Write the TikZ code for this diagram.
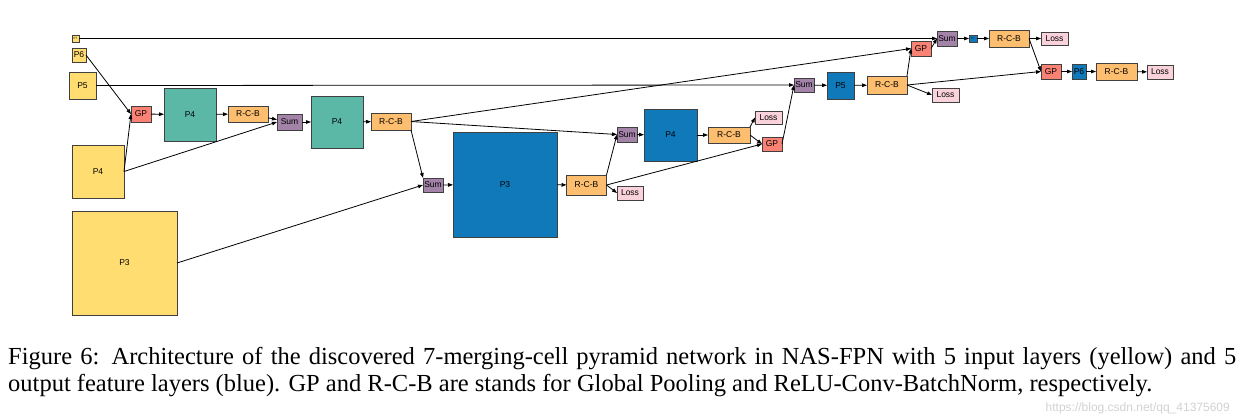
\documentclass[tikz,border=0pt]{standalone}
\usepackage{fontspec}
\setsansfont{Liberation Sans}
\newfontfamily\capfont{Liberation Serif}
\usetikzlibrary{arrows.meta}
\definecolor{cyel}{HTML}{FFDD71}
\definecolor{cteal}{HTML}{5BB8A7}
\definecolor{cblue}{HTML}{0F79B9}
\definecolor{corange}{HTML}{FDBE6F}
\definecolor{cred}{HTML}{FA8275}
\definecolor{cpurp}{HTML}{A384A8}
\definecolor{closs}{HTML}{FAD2DC}
\tikzset{
  box/.style={draw=black!75, line width=0.8pt, rectangle, inner sep=0pt, outer sep=0pt,
    font=\sffamily\fontsize{8.5}{9}\selectfont},
  tinybox/.style={box, font=\sffamily\fontsize{3}{3}\selectfont},
  edge/.style={draw=black, line width=0.8pt, -{Triangle[length=5pt,width=3.6pt]}},
  captxt/.style={anchor=base west, inner sep=0pt, font=\capfont\fontsize{24.5}{27}\selectfont},
}
\begin{document}
\begin{tikzpicture}[x=1pt,y=-1pt]
\useasboundingbox (0,0) rectangle (1238,416);
% input layers (yellow)
\node[tinybox, fill=cyel, minimum width=7pt, minimum height=7pt] (p7y) at (75.5,38.5) {P7};
\node[box, fill=cyel, minimum width=14pt, minimum height=14pt] (p6y) at (79,55) {P6};
\node[box, fill=cyel, minimum width=27pt, minimum height=27pt] (p5y) at (82.5,85.5) {P5};
\node[box, fill=cyel, minimum width=52pt, minimum height=53pt] (p4y) at (98,171.5) {P4};
\node[box, fill=cyel, minimum width=105pt, minimum height=104pt] (p3y) at (124.5,263) {P3};
% cells
\node[box, fill=cred, minimum width=20pt, minimum height=16pt] (gp1) at (141,114) {GP};
\node[box, fill=cteal, minimum width=52pt, minimum height=53pt] (p4t1) at (190,114.5) {P4};
\node[box, fill=corange, minimum width=40pt, minimum height=16pt] (rcb1) at (248,114) {R-C-B};
\node[box, fill=cpurp, minimum width=25pt, minimum height=16pt] (sum1) at (289.5,122) {Sum};
\node[box, fill=cteal, minimum width=52pt, minimum height=52pt] (p4t2) at (337,122) {P4};
\node[box, fill=corange, minimum width=40pt, minimum height=17pt] (rcb2) at (391,121.5) {R-C-B};
\node[box, fill=cpurp, minimum width=20pt, minimum height=14pt] (sum2) at (433,185) {Sum};
\node[box, fill=cblue, minimum width=104pt, minimum height=105pt] (p3b) at (505,184.5) {P3};
\node[box, fill=corange, minimum width=40pt, minimum height=20pt] (rcb3) at (586.5,185) {R-C-B};
\node[box, fill=closs, minimum width=26pt, minimum height=14pt] (loss1) at (630,193) {Loss};
\node[box, fill=cpurp, minimum width=20pt, minimum height=15pt] (sum3) at (627,134.5) {Sum};
\node[box, fill=cblue, minimum width=53pt, minimum height=52pt] (p4b) at (670.5,135) {P4};
\node[box, fill=corange, minimum width=42pt, minimum height=16pt] (rcb4) at (729,135) {R-C-B};
\node[box, fill=closs, minimum width=27pt, minimum height=13pt] (loss2) at (768.5,117.5) {Loss};
\node[box, fill=cred, minimum width=20pt, minimum height=14pt] (gp2) at (772,144) {GP};
\node[box, fill=cpurp, minimum width=20pt, minimum height=14pt] (sum4) at (804,85) {Sum};
\node[box, fill=cblue, minimum width=27pt, minimum height=27pt] (p5b) at (840.5,85.5) {P5};
\node[box, fill=corange, minimum width=40pt, minimum height=18pt] (rcb5) at (887,85) {R-C-B};
\node[box, fill=closs, minimum width=27pt, minimum height=14pt] (loss3) at (945.5,95) {Loss};
\node[box, fill=cred, minimum width=20pt, minimum height=15pt] (gp3) at (921,48.5) {GP};
\node[box, fill=cpurp, minimum width=20pt, minimum height=15pt] (sum5) at (947,38.5) {Sum};
\node[tinybox, fill=cblue, minimum width=8pt, minimum height=7pt] (p7b) at (973,38.5) {P7};
\node[box, fill=corange, minimum width=40pt, minimum height=17pt] (rcb6) at (1009,38.5) {R-C-B};
\node[box, fill=closs, minimum width=27pt, minimum height=13pt] (loss4) at (1054.5,38.5) {Loss};
\node[box, fill=cred, minimum width=20pt, minimum height=15pt] (gp4) at (1051,71.5) {GP};
\node[box, fill=cblue, minimum width=14pt, minimum height=15pt] (p6b) at (1079,71.5) {P6};
\node[box, fill=corange, minimum width=41pt, minimum height=17pt] (rcb7) at (1116.5,71.5) {R-C-B};
\node[box, fill=closs, minimum width=26pt, minimum height=14pt] (loss5) at (1160,72) {Loss};
% edges
\draw[edge] (p7y.east) -- (sum5.west);
\draw[edge] (p5y.east) -- (sum4.west);
\draw[edge] (p6y.east) -- (gp1.west);
\draw[edge] (p4y.east) -- (gp1.west);
\draw[edge] (p4y.east) -- (sum1.west);
\draw[edge] (gp1) -- (p4t1);
\draw[edge] (p4t1) -- (rcb1);
\draw[edge] (rcb1) -- (sum1);
\draw[edge] (sum1) -- (p4t2);
\draw[edge] (p4t2) -- (rcb2);
\draw[edge] (rcb2.east) -- (gp3.west);
\draw[edge] (rcb2.east) -- (sum3.west);
\draw[edge] (rcb2.south east) -- (sum2.north west);
\draw[edge] (p3y.east) -- (sum2.west);
\draw[edge] (sum2) -- (p3b);
\draw[edge] (p3b) -- (rcb3);
\draw[edge] (rcb3.north east) -- (sum3.west);
\draw[edge] (rcb3.east) -- (gp2.west);
\draw[edge] (rcb3.east) -- (loss1.west);
\draw[edge] (sum3) -- (p4b);
\draw[edge] (p4b) -- (rcb4);
\draw[edge] (rcb4.north east) -- (loss2.west);
\draw[edge] (rcb4.east) -- (gp2.west);
\draw[edge] (gp2.east) -- (sum4.west);
\draw[edge] (sum4) -- (p5b);
\draw[edge] (p5b) -- (rcb5);
\draw[edge] (rcb5.north east) -- (gp3.west);
\draw[edge] (rcb5.east) -- (loss3.west);
\draw[edge] (rcb5.east) -- (gp4.west);
\draw[edge] (gp3.east) -- (sum5.west);
\draw[edge] (sum5) -- (p7b);
\draw[edge] (p7b) -- (rcb6);
\draw[edge] (rcb6) -- (loss4);
\draw[edge] (rcb6.east) -- (gp4.west);
\draw[edge] (gp4) -- (p6b);
\draw[edge] (p6b) -- (rcb7);
\draw[edge] (rcb7) -- (loss5);
% caption
\node[captxt] (cap1) at (8,364)
  {\makebox[1228pt][s]{Figure 6:\hspace{0.5em}Architecture of the discovered 7-merging-cell pyramid network in NAS-FPN with 5 input layers (yellow) and 5}};
\node[captxt] (cap2) at (8,391)
  {output feature layers (blue). GP and R-C-B are stands for Global Pooling and ReLU-Conv-BatchNorm, respectively.};
\node[anchor=base east, inner sep=0pt, text=black!18, font=\sffamily\fontsize{12}{12}\selectfont] (wm) at (1230,411)
  {https://blog.csdn.net/qq\_41375609};
\end{tikzpicture}
\end{document}
